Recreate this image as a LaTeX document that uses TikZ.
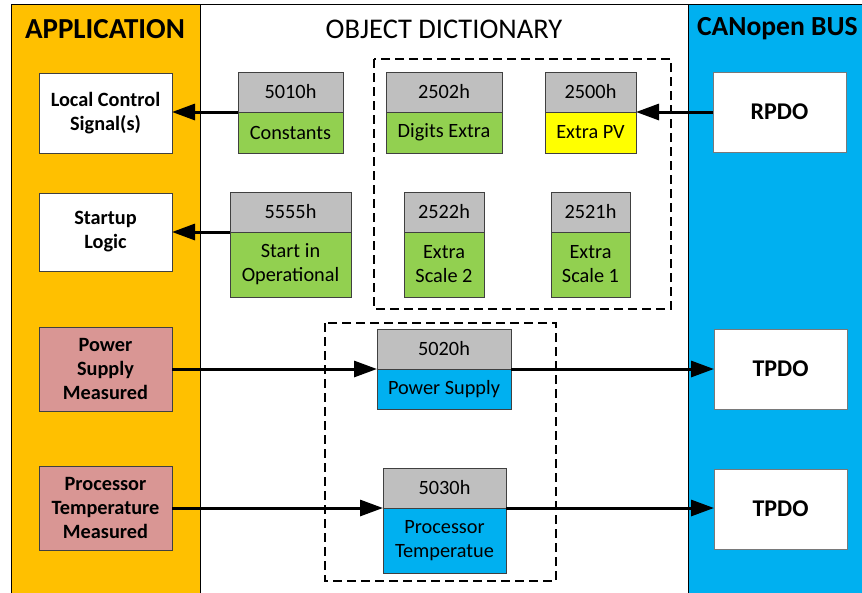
\documentclass[tikz,border=0pt]{standalone}
\usepackage{fontspec}
\setmainfont{Carlito}
\usetikzlibrary{arrows.meta}
\definecolor{appor}{HTML}{FFC000}
\definecolor{busblue}{HTML}{00B0F0}
\definecolor{hdrgray}{HTML}{BFBFBF}
\definecolor{odgreen}{HTML}{92D050}
\definecolor{odyellow}{HTML}{FFFF00}
\definecolor{odblue}{HTML}{00B0F0}
\definecolor{mpink}{HTML}{D99694}
\definecolor{edge}{HTML}{404040}
\begin{document}
\begin{tikzpicture}[x=1pt,y=-1pt,
  every node/.style={outer sep=0pt, inner sep=1pt},
  coltitle/.style={font=\fontsize{28.5}{31}\selectfont},
  hdr/.style={draw=edge, line width=1pt, fill=hdrgray, anchor=north west, minimum height=40, font=\fontsize{20.3}{24}\selectfont},
  odbody/.style={draw=edge, line width=1pt, anchor=north, align=center, font=\fontsize{20.3}{24}\selectfont},
  appbox/.style={draw=edge, line width=1pt, anchor=north west, minimum width=133, align=center, font=\fontsize{20.3}{24}\selectfont\bfseries},
  pdo/.style={draw=edge!70, line width=1pt, fill=white, anchor=north west, minimum width=133, minimum height=80, font=\fontsize{24}{28}\selectfont\bfseries},
  arr/.style={line width=3pt, -{Triangle[length=23pt,width=16pt]}},
  grp/.style={draw=black, line width=2.8pt, dash pattern=on 9pt off 5pt}
]
\useasboundingbox (0,0) rectangle (862,592);
\fill[white] (0,0) rectangle (862,592);
% columns
\draw[fill=appor, line width=0.9pt] (11,4) rectangle (200,600);
\draw[line width=0.9pt] (200,4) -- (688,4);
\draw[fill=busblue, line width=0.9pt] (688,4) rectangle (880,600);
\node[coltitle, font=\fontsize{29}{31}\selectfont\bfseries] (tapp) at (105,29) {APPLICATION};
\node[coltitle] (tod) at (444,29) {OBJECT DICTIONARY};
\node[coltitle, font=\fontsize{27.6}{31}\selectfont\bfseries, anchor=west] (tbus) at (696,29) {CANopen BUS};
% group frames
\draw[grp] (374,59) rectangle (671,309);
\draw[grp] (325,323) rectangle (556,581);
% application boxes
\node[appbox, fill=white, minimum height=80] (lcs) at (39,73) {Local Control\\Signal(s)};
\node[appbox, fill=white, minimum height=78] (sul) at (39,193) {Startup\\Logic};
\node[appbox, fill=mpink, minimum height=84] (psm) at (39,327) {Power\\Supply\\Measured};
\node[appbox, fill=mpink, minimum height=84] (ptm) at (39,466) {Processor\\Temperature\\Measured};
% bus boxes
\node[pdo] (rpdo) at (713,72) {RPDO};
\node[pdo] (tpdoa) at (714,329) {TPDO};
\node[pdo] (tpdob) at (714,469) {TPDO};
% object dictionary entries
\node[hdr, minimum width=105] (h5010) at (238,72) {5010h};
\node[odbody, fill=odgreen, minimum width=105, minimum height=41] (b5010) at (h5010.south) {Constants};
\node[hdr, minimum width=116] (h2502) at (386,72) {2502h};
\node[odbody, fill=odgreen, minimum width=116, minimum height=41] (b2502) at (h2502.south) {Digits Extra};
\node[hdr, minimum width=91] (h2500) at (545,72) {2500h};
\node[odbody, fill=odyellow, minimum width=91, minimum height=41] (b2500) at (h2500.south) {Extra PV};
\node[hdr, minimum width=121] (h5555) at (230,192) {5555h};
\node[odbody, fill=odgreen, minimum width=121, minimum height=65] (b5555) at (h5555.south) {Start in\\Operational};
\node[hdr, minimum width=80] (h2522) at (404,192) {2522h};
\node[odbody, fill=odgreen, minimum width=80, minimum height=65] (b2522) at (h2522.south) {Extra\\Scale 2};
\node[hdr, minimum width=79] (h2521) at (551,192) {2521h};
\node[odbody, fill=odgreen, minimum width=79, minimum height=65] (b2521) at (h2521.south) {Extra\\Scale 1};
\node[hdr, minimum width=134] (h5020) at (377,329) {5020h};
\node[odbody, fill=odblue, minimum width=134, minimum height=40] (b5020) at (h5020.south) {Power Supply};
\node[hdr, minimum width=123] (h5030) at (383,468) {5030h};
\node[odbody, fill=odblue, minimum width=123, minimum height=65] (b5030) at (h5030.south) {Processor\\Temperatue};
% connectors
\draw[arr] (rpdo.west |- h2500.south east) -- (h2500.south east);
\draw[arr] (h5010.south west) -- (lcs.east |- h5010.south west);
\draw[arr] (h5555.south west) -- (sul.east |- h5555.south west);
\draw[arr] (psm.east |- h5020.south west) -- (h5020.south west);
\draw[arr] (h5020.south east) -- (tpdoa.west |- h5020.south east);
\draw[arr] (ptm.east |- h5030.south west) -- (h5030.south west);
\draw[arr] (h5030.south east) -- (tpdob.west |- h5030.south east);
\end{tikzpicture}
\end{document}
